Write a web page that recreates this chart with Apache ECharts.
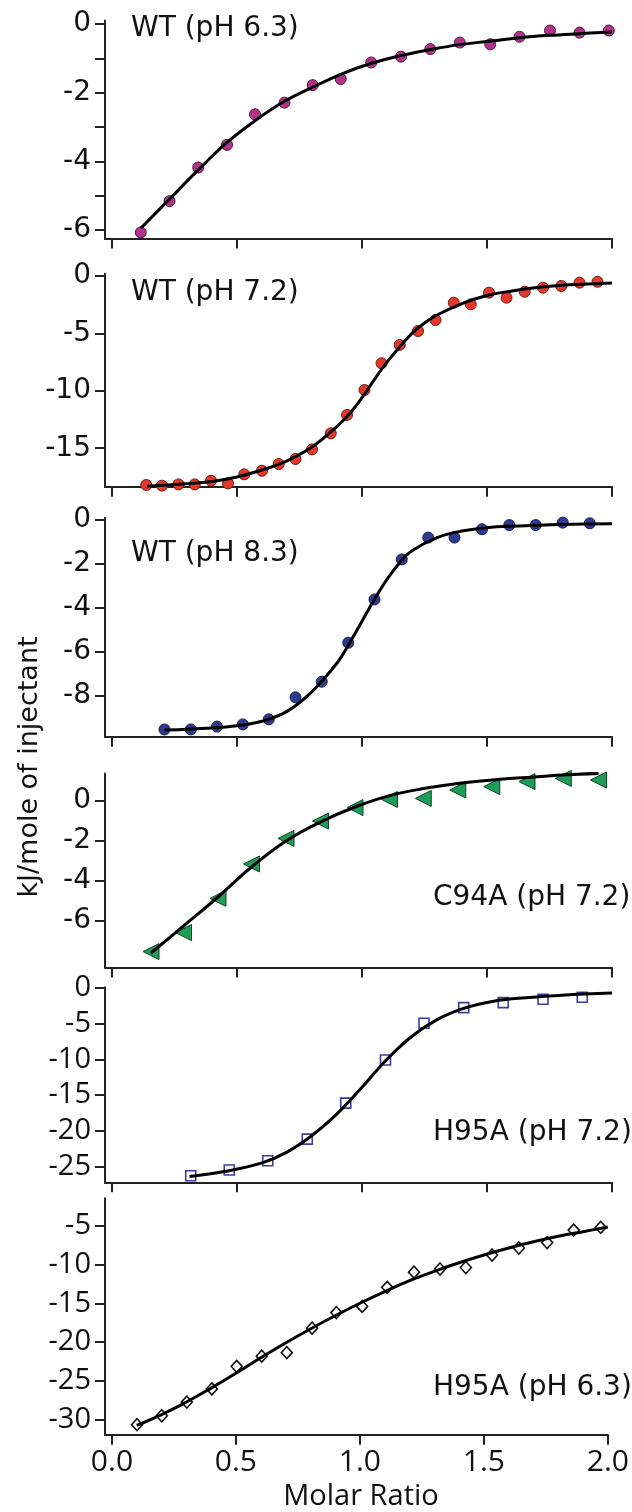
<!DOCTYPE html>
<html><head><meta charset="utf-8">
<script src="https://cdn.jsdelivr.net/npm/echarts@6/dist/echarts.min.js"></script>
<style>html,body{margin:0;padding:0;background:#fff}#c{width:632px;height:1512px}</style>
</head><body><div id="c"></div>
<script>
// ---------- DATA ----------
const xTicks = [0, 0.5, 1.0, 1.5, 2.0];
const xAxisTitle = 'Molar Ratio';
const yAxisTitle = 'kJ/mole of injectant';

// Panel 1: WT (pH 6.3)
const p1Label = 'WT (pH 6.3)';
const p1X = [0.115, 0.23, 0.345, 0.46, 0.572, 0.69, 0.803, 0.915, 1.037, 1.156, 1.273, 1.391, 1.513, 1.63, 1.752, 1.87, 1.987];
const p1Y = [-6.07, -5.16, -4.18, -3.52, -2.63, -2.29, -1.78, -1.60, -1.12, -0.95, -0.73, -0.54, -0.59, -0.37, -0.19, -0.25, -0.19];
const p1FitX = [0.115, 0.23, 0.345, 0.46, 0.575, 0.69, 0.8, 0.92, 1.035, 1.155, 1.27, 1.39, 1.51, 1.63, 1.75, 1.87, 2.0];
const p1FitY = [-5.95, -5.1, -4.25, -3.45, -2.8, -2.25, -1.85, -1.45, -1.15, -0.92, -0.75, -0.6, -0.5, -0.4, -0.33, -0.28, -0.23];
const p1Ticks = [-6, -5, -4, -3, -2, -1, 0];
const p1TickLabels = [-6, -4, -2, 0];

// Panel 2: WT (pH 7.2)
const p2Label = 'WT (pH 7.2)';
const p2X = [0.137, 0.2, 0.266, 0.331, 0.396, 0.464, 0.529, 0.6, 0.667, 0.734, 0.8, 0.875, 0.94, 1.01, 1.078, 1.151, 1.224, 1.294, 1.367, 1.435, 1.508, 1.578, 1.651, 1.724, 1.797, 1.87, 1.942];
const p2Y = [-18.2, -18.26, -18.15, -18.15, -17.83, -18.06, -17.27, -16.96, -16.38, -15.94, -15.1, -13.7, -12.1, -9.93, -7.6, -6.0, -4.79, -3.83, -2.32, -2.47, -1.45, -1.89, -1.37, -1.02, -0.87, -0.58, -0.5];
const p2FitX = [0.14, 0.3, 0.4, 0.5, 0.6, 0.7, 0.8, 0.9, 0.95, 1.0, 1.05, 1.1, 1.15, 1.2, 1.25, 1.3, 1.4, 1.5, 1.6, 1.7, 1.8, 1.9, 2.0];
const p2FitY = [-18.3, -18.1, -17.9, -17.5, -16.9, -16.1, -14.9, -13.1, -12.0, -10.6, -9.0, -7.5, -6.2, -5.0, -4.1, -3.4, -2.4, -1.7, -1.3, -1.0, -0.8, -0.7, -0.6];
const p2Ticks = [-15, -10, -5, 0];
const p2TickLabels = [-15, -10, -5, 0];

// Panel 3: WT (pH 8.3)
const p3Label = 'WT (pH 8.3)';
const p3X = [0.21, 0.315, 0.42, 0.523, 0.627, 0.734, 0.839, 0.945, 1.05, 1.159, 1.265, 1.37, 1.48, 1.589, 1.695, 1.803, 1.911];
const p3Y = [-9.52, -9.52, -9.39, -9.29, -9.06, -8.06, -7.35, -5.58, -3.61, -1.79, -0.8, -0.8, -0.42, -0.23, -0.23, -0.12, -0.15];
const p3FitX = [0.21, 0.4, 0.5, 0.6, 0.7, 0.8, 0.9, 0.95, 1.0, 1.05, 1.1, 1.15, 1.2, 1.3, 1.4, 1.5, 1.6, 1.8, 2.0];
const p3FitY = [-9.55, -9.45, -9.35, -9.15, -8.7, -7.8, -6.5, -5.6, -4.6, -3.6, -2.7, -1.95, -1.4, -0.8, -0.5, -0.35, -0.28, -0.2, -0.17];
const p3Ticks = [-8, -6, -4, -2, 0];
const p3TickLabels = [-8, -6, -4, -2, 0];

// Panel 4: C94A (pH 7.2)
const p4Label = 'C94A (pH 7.2)';
const p4X = [0.156, 0.286, 0.424, 0.558, 0.696, 0.834, 0.972, 1.11, 1.245, 1.383, 1.519, 1.66, 1.805, 1.946];
const p4Y = [-7.53, -6.58, -4.87, -3.15, -1.87, -1.0, -0.33, 0.08, 0.13, 0.55, 0.72, 0.97, 1.13, 1.05];
const p4FitX = [0.156, 0.286, 0.424, 0.558, 0.696, 0.834, 0.972, 1.11, 1.245, 1.383, 1.52, 1.66, 1.8, 1.946];
const p4FitY = [-7.6, -6.25, -4.8, -3.3, -2.0, -1.05, -0.3, 0.27, 0.62, 0.88, 1.05, 1.18, 1.3, 1.38];
const p4Ticks = [-6, -4, -2, 0];
const p4TickLabels = [-6, -4, -2, 0];

// Panel 5: H95A (pH 7.2)
const p5Label = 'H95A (pH 7.2)';
const p5X = [0.315, 0.469, 0.623, 0.781, 0.935, 1.094, 1.248, 1.407, 1.565, 1.724, 1.881];
const p5Y = [-26.2, -25.4, -24.1, -21.1, -16.1, -10.1, -5.0, -2.83, -2.13, -1.67, -1.39];
const p5FitX = [0.31, 0.45, 0.6, 0.7, 0.8, 0.9, 1.0, 1.1, 1.2, 1.3, 1.4, 1.5, 1.6, 1.8, 2.0];
const p5FitY = [-26.3, -25.6, -24.4, -22.9, -20.6, -17.6, -13.9, -10.0, -6.8, -4.5, -3.0, -2.1, -1.6, -1.1, -0.8];
const p5Ticks = [-25, -20, -15, -10, -5, 0];
const p5TickLabels = [-25, -20, -15, -10, -5, 0];

// Panel 6: H95A (pH 6.3)
const p6Label = 'H95A (pH 6.3)';
const p6X = [0.101, 0.201, 0.302, 0.403, 0.503, 0.604, 0.705, 0.807, 0.905, 1.009, 1.11, 1.218, 1.323, 1.427, 1.533, 1.641, 1.755, 1.862, 1.971];
const p6Y = [-30.6, -29.45, -27.7, -26.0, -23.1, -21.8, -21.35, -18.2, -16.2, -15.4, -12.95, -11.0, -10.6, -10.4, -8.8, -7.9, -7.2, -5.6, -5.25];
const p6FitX = [0.1, 0.2, 0.3, 0.4, 0.5, 0.6, 0.7, 0.8, 0.9, 1.0, 1.1, 1.2, 1.3, 1.4, 1.5, 1.6, 1.7, 1.8, 1.9, 2.0];
const p6FitY = [-30.7, -29.3, -27.7, -25.9, -24.0, -22.0, -20.1, -18.3, -16.6, -15.0, -13.5, -12.1, -10.9, -9.8, -8.8, -7.9, -7.1, -6.4, -5.8, -5.2];
const p6Ticks = [-30, -25, -20, -15, -10, -5];
const p6TickLabels = [-30, -25, -20, -15, -10, -5];

// ---------- LAYOUT / STYLE ----------
const GL = 105, GW = 507, XMIN = -0.028, XMAX = 2.0;
const HELV = '"DejaVu Sans", sans-serif';
const MYR = '"Open Sans", sans-serif';
const panels = [
  {label: p1Label, x: p1X, y: p1Y, fx: p1FitX, fy: p1FitY, ticks: p1Ticks, labels: p1TickLabels,
   top: 20.6, height: 218, min: -6.25, max: 0.1, font: HELV, fs: 28,
   sym: 'circle', size: 11, rot: 0, fill: '#b3328e', stroke: '#4a1640', bw: 1,
   lx: 131, ly: 29},
  {label: p2Label, x: p2X, y: p2Y, fx: p2FitX, fy: p2FitY, ticks: p2Ticks, labels: p2TickLabels,
   top: 273.7, height: 213, min: -18.35, max: 0.2, font: HELV, fs: 28,
   sym: 'circle', size: 11, rot: 0, fill: '#e3382b', stroke: '#6e1a12', bw: 1,
   lx: 131, ly: 293},
  {label: p3Label, x: p3X, y: p3Y, fx: p3FitX, fy: p3FitY, ticks: p3Ticks, labels: p3TickLabels,
   top: 517.8, height: 218.9, min: -9.85, max: 0.1, font: HELV, fs: 28,
   sym: 'circle', size: 11, rot: 0, fill: '#2d3c8e', stroke: '#161f52', bw: 1,
   lx: 131, ly: 554},
  {label: p4Label, x: p4X, y: p4Y, fx: p4FitX, fy: p4FitY, ticks: p4Ticks, labels: p4TickLabels,
   top: 773.4, height: 194.2, min: -8.33, max: 1.38, font: HELV, fs: 28,
   sym: 'triangle', size: 16, rot: 90, fill: '#1f9d57', stroke: '#0b4524', bw: 1,
   lx: 433, ly: 898},
  {label: p5Label, x: p5X, y: p5Y, fx: p5FitX, fy: p5FitY, ticks: p5Ticks, labels: p5TickLabels,
   top: 987.3, height: 195, min: -27.1, max: 0, font: MYR, fs: 29,
   sym: 'rect', size: 10, rot: 0, fill: '#ffffff', stroke: '#3a3e9a', bw: 1.6,
   lx: 433, ly: 1133},
  {label: p6Label, x: p6X, y: p6Y, fx: p6FitX, fy: p6FitY, ticks: p6Ticks, labels: p6TickLabels,
   top: 1198.2, height: 236.6, min: -31.9, max: -1.5, font: MYR, fs: 29,
   sym: 'diamond', size: [11, 12], rot: 0, fill: '#ffffff', stroke: '#111111', bw: 1.6,
   lx: 433, ly: 1388}
];

const AX = '#222222';
const TXT = '#111111';
const grids = [], xAxes = [], yAxes = [], series = [], graphics = [];
panels.forEach((p, i) => {
  const last = i === panels.length - 1;
  grids.push({left: GL, width: GW, top: p.top, height: p.height, containLabel: false});
  xAxes.push({
    type: 'value', gridIndex: i, min: XMIN, max: XMAX,
    axisLine: {show: true, onZero: false, lineStyle: {color: AX, width: 2}},
    axisTick: {show: true, customValues: xTicks, length: 10, lineStyle: {color: AX, width: 2}},
    axisLabel: {show: last, customValues: xTicks, margin: 13, fontSize: 30, fontFamily: MYR, color: TXT,
                formatter: v => v.toFixed(1)},
    splitLine: {show: false}
  });
  yAxes.push({
    type: 'value', gridIndex: i, min: p.min, max: p.max,
    axisLine: {show: true, onZero: false, lineStyle: {color: AX, width: 2}},
    axisTick: {show: true, customValues: p.ticks, length: 10, lineStyle: {color: AX, width: 2}},
    axisLabel: {show: true, customValues: p.labels, margin: 14, fontSize: p.fs, fontFamily: p.font, color: TXT},
    splitLine: {show: false}
  });
  series.push({
    type: 'scatter', xAxisIndex: i, yAxisIndex: i, z: 2,
    data: p.x.map((v, k) => [v, p.y[k]]),
    symbol: p.sym, symbolSize: p.size, symbolRotate: p.rot,
    itemStyle: {color: p.fill, borderColor: p.stroke, borderWidth: p.bw, opacity: 1},
    emphasis: {disabled: true}, silent: true
  });
  series.push({
    type: 'line', xAxisIndex: i, yAxisIndex: i, z: 3,
    data: p.fx.map((v, k) => [v, p.fy[k]]),
    smooth: 0.4, symbol: 'none', showSymbol: false,
    lineStyle: {color: '#000', width: 3},
    silent: true
  });
  graphics.push({
    type: 'text', x: p.lx, y: p.ly,
    style: {text: p.label, font: '28px ' + HELV, fill: TXT, textAlign: 'left', textVerticalAlign: 'middle'},
    z: 10
  });
});

graphics.push({
  type: 'text', x: 30, y: 767, rotation: Math.PI / 2,
  style: {text: yAxisTitle, font: '27px ' + HELV, fill: TXT, textAlign: 'center', textVerticalAlign: 'middle'},
  z: 10
});
graphics.push({
  type: 'text', x: 361, y: 1497,
  style: {text: xAxisTitle, font: '29px ' + MYR, fill: TXT, textAlign: 'center', textVerticalAlign: 'middle'},
  z: 10
});

const chart = echarts.init(document.getElementById('c'), null, {renderer: 'canvas', width: 632, height: 1512});
chart.setOption({
  animation: false,
  backgroundColor: '#ffffff',
  grid: grids, xAxis: xAxes, yAxis: yAxes, series: series,
  graphic: {elements: graphics}
});
</script></body></html>
